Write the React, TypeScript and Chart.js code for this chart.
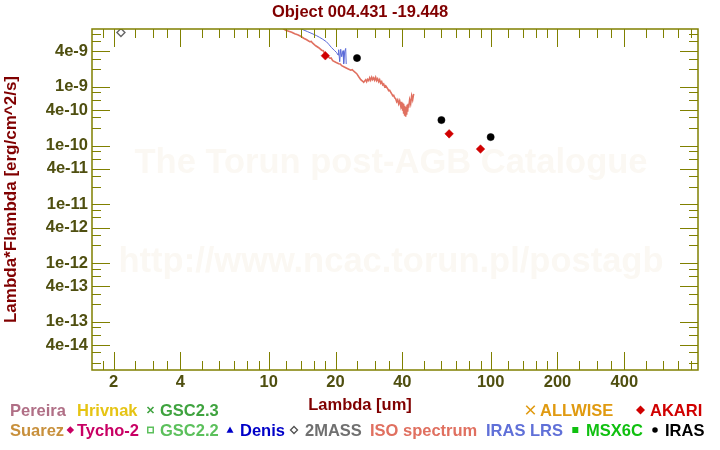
import React, { useEffect, useRef } from "react";
import { Chart, registerables } from "chart.js";

Chart.register(...registerables);

// ---------- data ----------
const isoLambda = [
  11.21, 11.56, 11.93, 12.31, 12.7, 13.1, 13.51, 13.94, 14.38, 14.83,
  15.3, 15.55, 15.79, 16.29, 16.8, 17.33, 17.6, 17.88, 18.26, 18.84,
  19.1, 19.43, 20.04, 20.68, 21.0, 21.33, 22.01, 22.71, 23.42, 23.8,
  24.17, 24.93, 25.45, 25.99, 26.53, 26.79, 27.37, 27.63, 27.92, 28.22,
  28.51, 28.8, 29.11, 29.41, 29.72, 30.02, 30.34, 30.65, 30.97, 31.3,
  31.62, 31.95, 32.29, 32.62, 32.96, 33.31, 33.65, 34.36, 34.71, 35.08,
  35.82, 36.19, 36.57, 36.95, 37.33, 37.72, 38.12, 38.51, 38.91, 39.32,
  39.52, 39.73, 39.94, 40.14, 40.35, 40.56, 40.77, 40.98, 41.19, 41.41,
  41.62, 41.84, 42.05, 42.27, 42.49, 42.71, 43.15, 43.6, 44.06, 44.52,
  44.99,
];
const isoFlux = [
  1.052e-8, 9.92e-9, 9.17e-9, 8.82e-9, 8.48e-9, 8.0e-9, 7.69e-9, 7.25e-9, 6.71e-9, 6.32e-9,
  5.84e-9, 5.9e-9, 5.51e-9, 4.99e-9, 4.62e-9, 4.19e-9, 4.1e-9, 3.72e-9, 3.44e-9, 3.06e-9,
  3.1e-9, 2.77e-9, 2.61e-9, 2.47e-9, 2.45e-9, 2.28e-9, 2.15e-9, 2.03e-9, 1.91e-9, 1.95e-9,
  1.84e-9, 1.67e-9, 1.48e-9, 1.32e-9, 1.24e-9, 1.19e-9, 1.32e-9, 1.22e-9, 1.34e-9, 1.27e-9,
  1.42e-9, 1.29e-9, 1.45e-9, 1.32e-9, 1.42e-9, 1.29e-9, 1.45e-9, 1.27e-9, 1.37e-9, 1.22e-9,
  1.32e-9, 1.15e-9, 1.22e-9, 1.08e-9, 1.12e-9, 1.0e-9, 1.04e-9, 9.25e-10, 8.55e-10, 8.72e-10,
  7.6e-10, 7.03e-10, 7.16e-10, 6.5e-10, 6.25e-10, 5.55e-10, 6.0e-10, 5.13e-10, 5.77e-10, 4.75e-10,
  5.55e-10, 4.22e-10, 5.34e-10, 3.9e-10, 5.13e-10, 3.47e-10, 4.75e-10, 3.21e-10, 4.57e-10, 3.08e-10,
  4.39e-10, 3.34e-10, 4.94e-10, 3.75e-10, 5.13e-10, 4.39e-10, 6.0e-10, 5.13e-10, 7.03e-10, 6.0e-10,
  7.6e-10,
];
const lrsLambda = [
  13.51, 14.27, 14.99, 15.84, 16.45, 16.97, 17.51, 18.2, 18.64, 19.16, 19.83, 20.25, 20.53, 20.67, 20.89,
  21.11, 21.33, 21.62, 21.77, 22.0, 22.23, 22.35,
];
const lrsFlux = [
  1.03e-8, 9.36e-9, 8.65e-9, 7.9e-9, 7.39e-9, 6.92e-9, 6.45e-9, 5.84e-9, 5.3e-9, 4.67e-9, 4.11e-9, 3.8e-9,
  3.47e-9, 4.27e-9, 2.67e-9, 4.35e-9, 3.24e-9, 4.11e-9, 2.47e-9, 3.95e-9, 4.49e-9, 2.44e-9,
];
const twoMassLambda = [2.16];
const twoMassFlux = [8.4e-9];
const akariLambda = [18, 65, 90];
const akariFlux = [3.37e-9, 1.58e-10, 8.7e-11];
const irasLambda = [25, 60, 100];
const irasFlux = [3.08e-9, 2.71e-10, 1.39e-10];

const xLabelTicks = [2, 4, 10, 20, 40, 100, 200, 400];
const xMinorTicks = [
  1.8, 2.5, 3, 3.5, 5, 6, 7, 8, 9, 12, 14, 16, 18, 25, 30, 35, 50, 60, 70, 80, 90, 120, 140, 160, 180, 250, 300,
  350, 500, 600, 700, 800,
];
const yLabelTicks = [4e-14, 1e-13, 4e-13, 1e-12, 4e-12, 1e-11, 4e-11, 1e-10, 4e-10, 1e-9, 4e-9];
const yMinorTicks = [
  2e-14, 3e-14, 6e-14, 8e-14, 2e-13, 3e-13, 6e-13, 8e-13, 2e-12, 3e-12, 6e-12, 8e-12, 2e-11, 3e-11, 6e-11, 8e-11,
  2e-10, 3e-10, 6e-10, 8e-10, 2e-9, 3e-9, 6e-9, 8e-9,
];

const titleText = "Object 004.431 -19.448";
const xTitle = "Lambda [um]";
const yTitle = "Lambda*Flambda [erg/cm^2/s]";
const watermark1 = "The Torun post-AGB Catalogue";
const watermark2 = "http://www.ncac.torun.pl/postagb";

const legendRow1 = ["Pereira", "Hrivnak", "GSC2.3", "ALLWISE", "AKARI"];
const legendRow2 = ["Suarez", "Tycho-2", "GSC2.2", "Denis", "2MASS", "ISO spectrum", "IRAS LRS", "MSX6C", "IRAS"];

// ---------- styling ----------
const FONT = '"Liberation Sans", Arial, Helvetica, sans-serif';
const FS = 16.5;
const AXIS = "#808000";
const TICKTXT = "#4f4f10";
const TITLE = "#800000";

type Marker = "none" | "cross" | "diamond" | "odiamond" | "osquare" | "square" | "triangle" | "circle";
const legendStyle: Record<string, { color: string; marker: Marker; mcolor?: string; x: number; mx?: number; ms?: number }> = {
  Pereira: { color: "#b06f86", marker: "none", x: 10 },
  Hrivnak: { color: "#e6c414", marker: "none", x: 77 },
  "GSC2.3": { color: "#3fa33f", marker: "cross", x: 160, mx: 150.5, ms: 6 },
  ALLWISE: { color: "#e09a10", marker: "cross", x: 540, mx: 530.5, ms: 8.5 },
  AKARI: { color: "#d00000", marker: "diamond", x: 650, mx: 640.5, ms: 9 },
  Suarez: { color: "#c8903c", marker: "none", x: 10 },
  "Tycho-2": { color: "#c80064", marker: "diamond", x: 77, mx: 70.3, ms: 7.5 },
  "GSC2.2": { color: "#5cc05c", marker: "osquare", x: 160, mx: 150.5, ms: 5.5 },
  Denis: { color: "#0000c8", marker: "triangle", x: 240, mx: 230, ms: 7 },
  "2MASS": { color: "#707070", mcolor: "#505050", marker: "odiamond", x: 305, mx: 294, ms: 7 },
  "ISO spectrum": { color: "#e07060", marker: "none", x: 370 },
  "IRAS LRS": { color: "#6070d8", marker: "none", x: 486 },
  MSX6C: { color: "#10c010", marker: "square", x: 586, mx: 575.3, ms: 6 },
  IRAS: { color: "#000000", marker: "circle", x: 665, mx: 655, ms: 5.5 },
};

const fmtY = (v: number) => {
  const e = Math.floor(Math.log10(v) + 1e-6);
  const m = Math.round(v / Math.pow(10, e));
  return `${m}e${e}`;
};

const pts = (xs: number[], ys: number[]) => xs.map((x, i) => ({ x, y: ys[i] }));

function drawMarker(ctx: CanvasRenderingContext2D, m: Marker, x: number, y: number, s: number, c: string) {
  const h = s / 2;
  ctx.save();
  ctx.fillStyle = c;
  ctx.strokeStyle = c;
  ctx.lineWidth = 1.6;
  ctx.beginPath();
  if (m === "cross") {
    ctx.moveTo(x - h, y - h);
    ctx.lineTo(x + h, y + h);
    ctx.moveTo(x + h, y - h);
    ctx.lineTo(x - h, y + h);
    ctx.stroke();
  } else if (m === "diamond" || m === "odiamond") {
    ctx.moveTo(x, y - h);
    ctx.lineTo(x + h, y);
    ctx.lineTo(x, y + h);
    ctx.lineTo(x - h, y);
    ctx.closePath();
    if (m === "diamond") ctx.fill();
    else {
      ctx.lineWidth = 1.3;
      ctx.stroke();
    }
  } else if (m === "osquare") {
    ctx.lineWidth = 1.5;
    ctx.strokeRect(x - h, y - h, s, s);
  } else if (m === "square") {
    ctx.fillRect(x - h, y - h, s, s);
  } else if (m === "triangle") {
    ctx.moveTo(x, y - h);
    ctx.lineTo(x + h, y + h * 0.8);
    ctx.lineTo(x - h, y + h * 0.8);
    ctx.closePath();
    ctx.fill();
  } else if (m === "circle") {
    ctx.arc(x, y, h, 0, Math.PI * 2);
    ctx.fill();
  }
  ctx.restore();
}

const decorPlugin = {
  id: "decor",
  beforeDatasetsDraw(chart: any) {
    const { ctx, chartArea: a } = chart;
    ctx.save();
    ctx.fillStyle = "#fbf8f3";
    ctx.font = `bold 34.5px ${FONT}`;
    ctx.textAlign = "center";
    ctx.textBaseline = "middle";
    const cx = (a.left + a.right) / 2 - 4;
    ctx.fillText(watermark1, cx, 163);
    ctx.fillText(watermark2, cx, 262);
    ctx.restore();
  },
  afterDraw(chart: any) {
    const { ctx, chartArea: a, scales } = chart;
    const xs = scales.x;
    const ys = scales.y;
    ctx.save();
    // ticks
    ctx.strokeStyle = AXIS;
    ctx.lineWidth = 1;
    const xTick = (v: number, len: number) => {
      const p = Math.round(xs.getPixelForValue(v)) + 0.5;
      if (p < a.left || p > a.right) return;
      ctx.beginPath();
      ctx.moveTo(p, a.bottom);
      ctx.lineTo(p, a.bottom - len);
      ctx.moveTo(p, a.top);
      ctx.lineTo(p, a.top + len);
      ctx.stroke();
    };
    const yTick = (v: number, len: number) => {
      const p = Math.round(ys.getPixelForValue(v)) + 0.5;
      if (p < a.top || p > a.bottom) return;
      ctx.beginPath();
      ctx.moveTo(a.left, p);
      ctx.lineTo(a.left + len, p);
      ctx.moveTo(a.right, p);
      ctx.lineTo(a.right - len, p);
      ctx.stroke();
    };
    xMinorTicks.forEach((v) => xTick(v, 9));
    xLabelTicks.forEach((v) => xTick(v, 18));
    yMinorTicks.forEach((v) => yTick(v, 9));
    yLabelTicks.forEach((v) => yTick(v, 18));
    // frame
    ctx.lineWidth = 1.5;
    ctx.strokeRect(a.left, a.top, a.right - a.left, a.bottom - a.top);

    // titles
    ctx.font = `bold ${FS}px ${FONT}`;
    ctx.fillStyle = TITLE;
    ctx.textAlign = "center";
    ctx.textBaseline = "alphabetic";
    ctx.fillText(titleText, 360, 17);
    ctx.fillText(xTitle, 360, 410);
    ctx.save();
    ctx.font = `bold 17px ${FONT}`;
    ctx.translate(16, (a.top + a.bottom) / 2);
    ctx.rotate(-Math.PI / 2);
    ctx.fillText(yTitle, 0, 0);
    ctx.restore();

    // legend
    ctx.textAlign = "left";
    const rows: [string[], number][] = [
      [legendRow1, 415.5],
      [legendRow2, 435.5],
    ];
    rows.forEach(([labels, base]) => {
      labels.forEach((lab) => {
        const st = legendStyle[lab];
        if (!st) return;
        if (st.marker !== "none" && st.mx !== undefined) {
          drawMarker(ctx, st.marker, st.mx, base - 5.5, st.ms || 7, st.mcolor || st.color);
        }
        ctx.fillStyle = st.color;
        ctx.fillText(lab, st.x, base);
      });
    });
    ctx.restore();
  },
};

export default function App() {
  const ref = useRef<HTMLCanvasElement | null>(null);

  useEffect(() => {
    document.body.style.margin = "0";
    const canvas = ref.current;
    if (!canvas) return;
    const tickFont = { family: FONT, size: FS, weight: "bold" as const };
    const chart = new Chart(canvas, {
      type: "scatter",
      data: {
        datasets: [
          {
            label: "ISO spectrum",
            data: pts(isoLambda, isoFlux),
            showLine: true,
            borderColor: "#e07060",
            borderWidth: 1.6,
            pointRadius: 0,
            order: 5,
          },
          {
            label: "IRAS LRS",
            data: pts(lrsLambda, lrsFlux),
            showLine: true,
            borderColor: "#5a6ad8",
            borderWidth: 1,
            pointRadius: 0,
            order: 4,
          },
          {
            label: "2MASS",
            data: pts(twoMassLambda, twoMassFlux),
            pointStyle: "rectRot",
            pointRadius: 4,
            borderColor: "#666666",
            backgroundColor: "rgba(255,255,255,0)",
            borderWidth: 1.4,
            order: 1,
          },
          {
            label: "AKARI",
            data: pts(akariLambda, akariFlux),
            pointStyle: "rectRot",
            pointRadius: 4.3,
            borderColor: "#d00000",
            backgroundColor: "#d00000",
            borderWidth: 0.5,
            order: 1,
          },
          {
            label: "IRAS",
            data: pts(irasLambda, irasFlux),
            pointStyle: "circle",
            pointRadius: 3.6,
            borderColor: "#000000",
            backgroundColor: "#000000",
            borderWidth: 0.5,
            order: 1,
          },
        ],
      },
      options: {
        responsive: false,
        animation: false,
        events: [],
        layout: { padding: { left: 0, right: 22, top: 29, bottom: 40 } },
        plugins: {
          legend: { display: false },
          tooltip: { enabled: false },
          title: { display: false },
        },
        scales: {
          x: {
            type: "logarithmic",
            position: "bottom",
            min: 1.6,
            max: 859,
            afterBuildTicks: (s: any) => {
              s.ticks = xLabelTicks.map((v) => ({ value: v }));
            },
            afterFit: (s: any) => {
              s.height = 40;
            },
            grid: { display: false, drawTicks: false },
            border: { display: false },
            ticks: {
              autoSkip: false,
              maxRotation: 0,
              padding: 3,
              color: TICKTXT,
              font: tickFont,
              callback: (v: any) => String(v),
            },
          },
          y: {
            type: "logarithmic",
            position: "left",
            min: 1.51e-14,
            max: 9.62e-9,
            afterBuildTicks: (s: any) => {
              s.ticks = yLabelTicks.map((v) => ({ value: v }));
            },
            afterFit: (s: any) => {
              s.width = 92;
            },
            grid: { display: false, drawTicks: false },
            border: { display: false },
            ticks: {
              autoSkip: false,
              padding: 4,
              color: TICKTXT,
              font: tickFont,
              callback: (v: any) => fmtY(Number(v)),
            },
          },
        },
      },
      plugins: [decorPlugin],
    });
    return () => chart.destroy();
  }, []);

  return (
    <div style={{ width: 720, height: 450, position: "relative", background: "#ffffff" }}>
      <canvas ref={ref} width={720} height={450} style={{ display: "block" }} />
    </div>
  );
}
